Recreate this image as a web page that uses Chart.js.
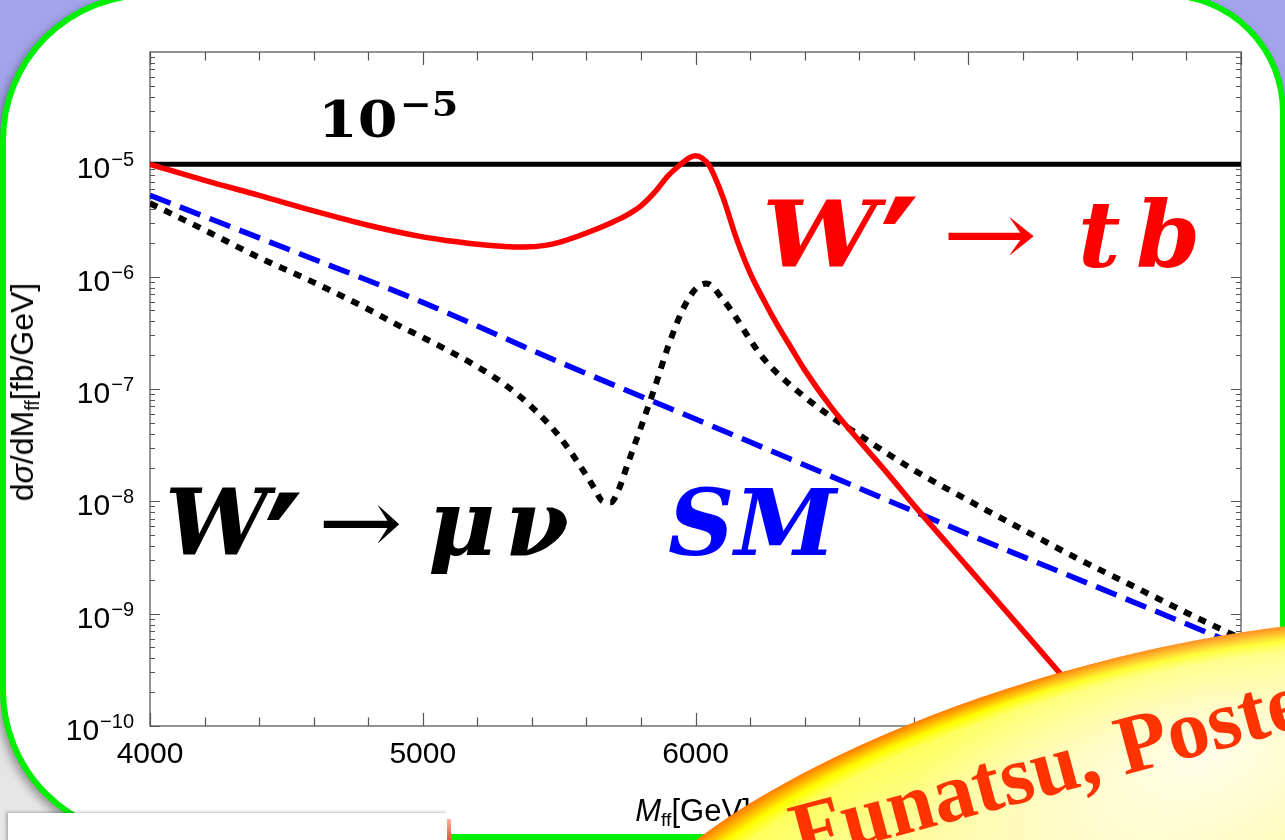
<!DOCTYPE html>
<html>
<head>
<meta charset="utf-8">
<script src="https://cdn.jsdelivr.net/npm/chart.js@4.4.1/dist/chart.umd.min.js"></script>
<style>
  html, body { margin: 0; padding: 0; }
  body {
    width: 1285px; height: 840px; overflow: hidden; position: relative;
    background: linear-gradient(#a3a3ea 0%, #a3a3ea 45%, #dcdcdc 72%, #e8e8e8 100%);
  }
  .panel {
    position: absolute; left: 0; top: -8px; width: 1286px; height: 848px;
    box-sizing: border-box; background: #fff;
    border: 6px solid #00ee00; border-radius: 148px 120px 150px 150px;
    box-shadow: -3px 4px 8px rgba(0, 0, 0, 0.35);
  }
  #plot { position: absolute; left: 0; top: 0; }
  .txt { position: absolute; white-space: nowrap; line-height: 1; }
  .axis { font-family: "Liberation Sans", Arial, sans-serif; font-size: 32px; color: #000; }
  .axis sub { font-size: 0.62em; vertical-align: -0.28em; line-height: 0; }
  .ytitle { left: 22px; top: 392px; transform: translate(-50%, -50%) rotate(-90deg); }
  .xtitle { left: 693px; top: 795px; transform: translateX(-50%); font-size: 31px; }
  .math { font-family: "DejaVu Serif", serif; font-weight: bold; font-style: italic; font-size: 92px; transform-origin: 0 0; }
  .prime { font-family: "DejaVu Sans", sans-serif; font-weight: bold; font-size: 150px; }
  .arr { font-family: "DejaVu Serif", serif; font-style: normal; font-weight: normal; font-size: 92px; transform-origin: 0 0; }
  .red { color: #ff0000; }
  .pow { left: 318px; top: 94px; font-family: "DejaVu Serif", serif; font-weight: bold; font-size: 51px;
    transform: scaleX(1.12); transform-origin: 0 0; }
  .pow span { font-size: 34px; position: relative; top: -21px; margin-left: 2px; }
  .note {
    position: absolute; left: 8px; top: 813px; width: 440px; height: 40px; background: #fff;
    box-shadow: -2px -1px 3px rgba(0, 0, 0, 0.25);
  }
  .note::after {
    content: ""; position: absolute; right: -3px; top: 6px; width: 4px; height: 22px;
    background: linear-gradient(#ffb0a0, #e85030);
  }
  .badge {
    position: absolute; left: 576px; top: 659px; width: 1120px; height: 400px;
    border-radius: 50%; transform: rotate(-15deg);
    background:
      radial-gradient(ellipse 300px 140px at 58% 30%, rgba(255, 253, 236, 0.95), rgba(255, 253, 236, 0) 100%),
      radial-gradient(ellipse closest-side, #fffcc0 0%, #fffb98 60%, #ffff60 88%, #ffff00 93%, #ffb000 97%, #ff7a00 100%);
  }
  .badge-text {
    position: absolute; left: 800px; top: 792px; transform-origin: 0 72px; transform: rotate(-15deg);
    font-family: "Liberation Serif", serif; font-weight: bold; font-size: 84px; color: #ff3300;
    white-space: nowrap; line-height: 1;
  }
</style>
</head>
<body>
<div class="panel"></div>
<canvas id="plot" width="1285" height="840"></canvas>

<div class="txt axis ytitle">d<i>σ</i>/dM<sub>ff</sub>[fb/GeV]</div>
<div class="txt axis xtitle"><i>M</i><sub>ff</sub>[GeV]</div>

<div class="txt pow">10<span>−5</span></div>

<div class="txt math" style="left:165px; top:477px;">W</div>
<div class="txt prime" style="left:264px; top:475px;">′</div>
<div class="txt arr" style="left:318px; top:477px; transform: scaleX(1.1);">→</div>
<div class="txt math" style="left:428px; top:477px;">μ</div>
<div class="txt math" style="left:505px; top:477px;">ν</div>

<div class="txt math" style="left:668px; top:477px; color:#0000ff;">SM</div>

<div class="txt math red" style="left:762px; top:189px; transform: scaleX(1.12);">W</div>
<div class="txt prime red" style="left:880px; top:179px;">′</div>
<div class="txt arr red" style="left:942px; top:189px; transform: scaleX(1.24);">→</div>
<div class="txt math red" style="left:1078px; top:189px;">t</div>
<div class="txt math red" style="left:1136px; top:189px;">b</div>

<div class="note"></div>
<div class="badge"></div>
<div class="badge-text">Funatsu, Poster</div>

<script>
// W' -> t b
const tbMass = [4000, 4200, 4400, 4600, 4800, 5000, 5100, 5200, 5300, 5370, 5450, 5500, 5600, 5700, 5750, 5800, 5850, 5900, 5950, 5975,
  6000, 6025, 6050, 6100, 6150, 6200, 6250, 6300, 6350, 6400, 6500, 6600, 6700, 6800, 7000, 7200, 7400, 7600];
const tbValues = [1.0e-5, 7.2e-6, 5.3e-6, 3.85e-6, 2.87e-6, 2.26e-6, 2.08e-6, 1.94e-6, 1.86e-6, 1.84e-6, 1.9e-6, 2.02e-6, 2.45e-6, 3.09e-6, 3.55e-6, 4.27e-6, 5.62e-6, 7.94e-6, 1.02e-5, 1.135e-5,
  1.19e-5, 1.135e-5, 9.77e-6, 5.13e-6, 2.19e-6, 1.08e-6, 6.2e-7, 3.72e-7, 2.34e-7, 1.48e-7, 6.76e-8, 3.47e-8, 1.82e-8, 9.3e-9, 2.57e-9, 7.1e-10, 1.95e-10, 5.4e-11];

// W' -> mu nu
const muMass = [4000, 4200, 4400, 4600, 4800, 4900, 5000, 5100, 5200, 5300, 5400, 5500, 5600, 5630, 5660, 5690, 5720, 5750, 5800,
  5850, 5900, 5950, 6000, 6040, 6100, 6150, 6200, 6250, 6300, 6400, 6500, 6600, 6700, 6800, 7000, 7200, 7400, 7600, 7800, 8000];
const muValues = [4.5e-6, 2.6e-6, 1.48e-6, 8.9e-7, 5.13e-7, 3.8e-7, 2.88e-7, 2.16e-7, 1.58e-7, 1.1e-7, 6.9e-8, 3.8e-8, 1.7e-8, 1.3e-8, 1.0e-8, 9.8e-9, 1.3e-8, 2.1e-8, 4.57e-8,
  1.02e-7, 2.4e-7, 4.9e-7, 7.76e-7, 8.7e-7, 6.3e-7, 4.27e-7, 2.75e-7, 1.86e-7, 1.38e-7, 8.5e-8, 5.6e-8, 3.9e-8, 2.7e-8, 1.9e-8, 1.02e-8, 5.6e-9, 3.1e-9, 1.78e-9, 1.02e-9, 6.0e-10];

// SM background
const smMass = [4000, 4500, 5000, 5500, 6000, 6500, 7000, 7500, 8000];
const smValues = [5.3e-6, 1.78e-6, 5.9e-7, 1.74e-7, 5.4e-8, 1.66e-8, 5.1e-9, 1.62e-9, 5.1e-10];

// reference level 10^-5
const refMass = [4000, 8000];
const refValues = [1e-5, 1e-5];

// axis ticks
const xTickLabels = [4000, 5000, 6000, 7000, 8000];
const yTickExps = [-10, -9, -8, -7, -6, -5];

const pts = (xs, ys) => xs.map((x, i) => ({ x: x, y: ys[i] }));

const AXIS_FONT = '"Liberation Sans", Arial, sans-serif';

// Mathematica-style frame: inward ticks on all four sides, labels left and bottom
const frameAxes = {
  id: 'frameAxes',
  beforeDatasetsDraw(chart) {
    const { ctx, chartArea: a, scales: { x, y } } = chart;
    ctx.save();
    ctx.strokeStyle = '#666';
    ctx.lineWidth = 1.4;
    ctx.strokeRect(a.left, a.top, a.right - a.left, a.bottom - a.top);

    ctx.beginPath();
    for (let v = 4000; v <= 8000; v += 200) {
      const px = Math.round(x.getPixelForValue(v)) + 0.5;
      const len = v % 1000 === 0 ? 13 : 8.5;
      ctx.moveTo(px, a.bottom); ctx.lineTo(px, a.bottom - len);
      ctx.moveTo(px, a.top); ctx.lineTo(px, a.top + len);
    }
    for (let k = -10; k < -4; k++) {
      for (let m = 1; m < 10; m++) {
        const py = Math.round(y.getPixelForValue(m * Math.pow(10, k))) + 0.5;
        const len = m === 1 ? 10 : 5;
        ctx.moveTo(a.left, py); ctx.lineTo(a.left + len, py);
        ctx.moveTo(a.right, py); ctx.lineTo(a.right - len, py);
      }
    }
    ctx.lineWidth = 1.2;
    ctx.strokeStyle = '#555';
    ctx.stroke();

    ctx.fillStyle = '#000';
    ctx.textAlign = 'center';
    ctx.textBaseline = 'alphabetic';
    ctx.font = '30px ' + AXIS_FONT;
    xTickLabels.forEach(v => {
      ctx.fillText(String(v), x.getPixelForValue(v), a.bottom + 37);
    });

    ctx.textAlign = 'right';
    yTickExps.forEach(e => {
      const py = y.getPixelForValue(Math.pow(10, e));
      const right = a.left - 16;
      ctx.font = '20px ' + AXIS_FONT;
      const sup = '\u2212' + Math.abs(e);
      ctx.fillText(sup, right, py + 2);
      const w = ctx.measureText(sup).width;
      ctx.font = '30px ' + AXIS_FONT;
      ctx.fillText('10', right - w - 1, py + 14);
    });
    ctx.restore();
  }
};

new Chart(document.getElementById('plot').getContext('2d'), {
  type: 'line',
  data: {
    datasets: [
      {
        label: "W' -> t b",
        data: pts(tbMass, tbValues),
        borderColor: '#ff0000',
        borderWidth: 5.5,
        cubicInterpolationMode: 'monotone'
      },
      {
        label: "W' -> mu nu",
        data: pts(muMass, muValues),
        borderColor: '#000000',
        borderWidth: 6,
        borderDash: [8, 8],
        cubicInterpolationMode: 'monotone'
      },
      {
        label: 'SM',
        data: pts(smMass, smValues),
        borderColor: '#0000ff',
        borderWidth: 5.5,
        borderDash: [22, 10],
        cubicInterpolationMode: 'monotone'
      },
      {
        label: '10^-5',
        data: pts(refMass, refValues),
        borderColor: '#000000',
        borderWidth: 5
      }
    ]
  },
  options: {
    responsive: false,
    animation: false,
    events: [],
    layout: { padding: { left: 150, top: 52, right: 44, bottom: 114 } },
    elements: { point: { radius: 0 }, line: { fill: false, borderCapStyle: 'butt' } },
    scales: {
      x: { type: 'linear', min: 4000, max: 8000, display: false },
      y: { type: 'logarithmic', min: 1e-10, max: 1e-4, display: false }
    },
    plugins: { legend: { display: false }, tooltip: { enabled: false } }
  },
  plugins: [frameAxes]
});
</script>
</body>
</html>
